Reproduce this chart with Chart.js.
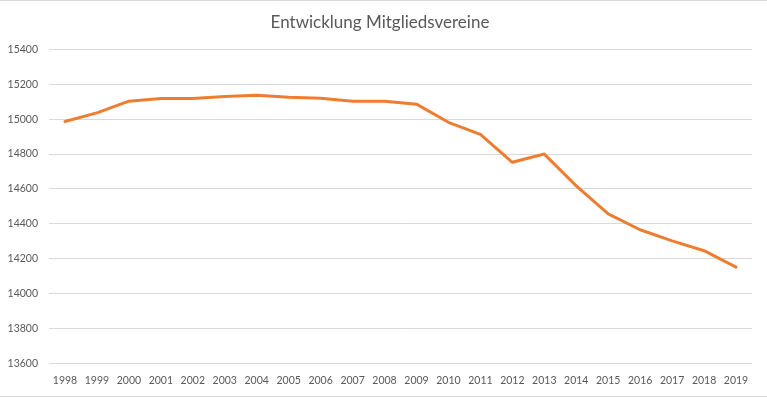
<!DOCTYPE html>
<html>
<head>
<meta charset="utf-8">
<script src="https://cdn.jsdelivr.net/npm/chart.js@4.4.1/dist/chart.umd.min.js"></script>
<style>
  body { margin: 0; background: #ffffff; }
  #box {
    width: 767px;
    height: 397px;
    box-sizing: border-box;
    border-top: 1px solid #d9d9d9;
    border-bottom: 1px solid #d9d9d9;
  }
  canvas { display: block; }
</style>
</head>
<body>
<div id="box"><canvas id="Chart" width="767" height="395"></canvas></div>
<script>
//chart data
var years = ["1998", "1999", "2000", "2001", "2002", "2003", "2004", "2005", "2006", "2007", "2008",
  "2009", "2010", "2011", "2012", "2013", "2014", "2015", "2016", "2017", "2018", "2019"];
var vereine = [14987, 15036, 15103, 15118, 15118, 15130, 15137, 15126, 15120, 15103, 15103,
  15086, 14982, 14913, 14753, 14800, 14618, 14457, 14366, 14302, 14246, 14152];
var yMin = 13600;
var yMax = 15400;
var yStep = 200;
var title = "Entwicklung Mitgliedsvereine";

//Launch the line chart
function launchGraf() {
  var ctx = document.getElementById("Chart").getContext("2d");

  var tickFont = { family: "Lato", size: 10.5 };

  //graf options
  var options = {
    responsive: false,
    animation: false,
    devicePixelRatio: 1,
    layout: {
      padding: { left: 8, right: 15, top: 0, bottom: 9 },
    },
    plugins: {
      legend: { display: false },
      tooltip: { enabled: false },
      title: {
        display: true,
        text: title,
        color: "#595959",
        font: { family: "Lato", size: 17, weight: "normal" },
        padding: { top: 11, bottom: 17 },
      },
    },
    scales: {
      x: {
        offset: true,
        //hidden ticks only used to keep a gap above the labels
        grid: { display: false, drawTicks: true, tickLength: 11 },
        border: { display: false },
        ticks: {
          color: "#595959",
          font: tickFont,
          padding: 0,
          maxRotation: 0,
          autoSkip: false,
        },
      },
      y: {
        min: yMin,
        max: yMax,
        grid: { color: "#d9d9d9", lineWidth: 1, drawTicks: false },
        border: { display: false },
        ticks: {
          stepSize: yStep,
          color: "#595959",
          font: tickFont,
          padding: 11,
          callback: function (v) {
            return String(v);
          },
        },
        //padding is counted twice by chart.js, keep the axis narrow
        afterFit: function (scale) {
          scale.width = 41;
        },
      },
    },
  };

  var myChart = new Chart(ctx, {
    type: "line",
    data: {
      labels: years,
      datasets: [
        {
          label: "Mitgliedsvereine",
          data: vereine,
          borderColor: "#ED7D31",
          borderWidth: 3,
          borderJoinStyle: "round",
          borderCapStyle: "round",
          pointRadius: 0,
          tension: 0,
          fill: false,
        },
      ],
    },
    options: options,
  });
  return myChart;
}

launchGraf();
</script>
</body>
</html>
